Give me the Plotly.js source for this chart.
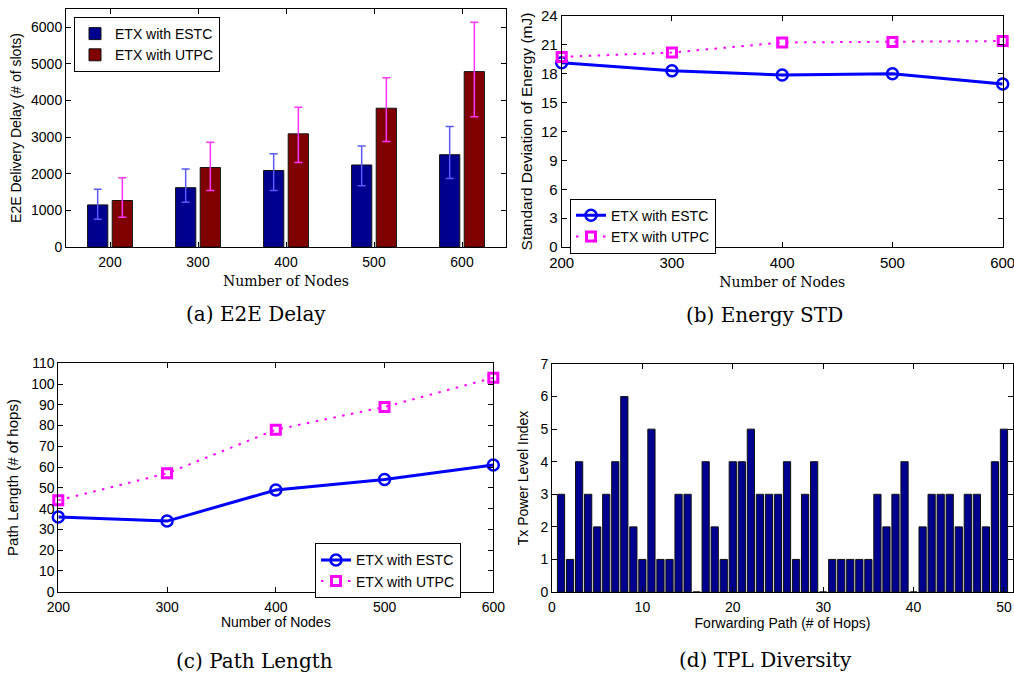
<!DOCTYPE html>
<html>
<head>
<meta charset="utf-8">
<script src="https://cdn.plot.ly/plotly-3.0.1.min.js"></script>
<style>html,body{margin:0;padding:0;background:#fff;}#chart{width:1014px;height:673px;}</style>
</head>
<body>
<div id="chart"></div>
<script>
// ---------- Data ----------
const nodes = [200, 300, 400, 500, 600];

// (a) E2E delay
const delayESTC = [1150, 1620, 2090, 2240, 2520];
const delayESTCErrPlus = [430, 510, 460, 520, 770];
const delayESTCErrMinus = [390, 400, 550, 570, 650];
const delayUTPC = [1270, 2170, 3090, 3790, 4790];
const delayUTPCErrPlus = [620, 690, 730, 830, 1350];
const delayUTPCErrMinus = [460, 630, 780, 910, 1230];

// (b) Energy STD
const energyESTC = [19.15, 18.3, 17.87, 18.0, 16.93];
const energyUTPC = [19.75, 20.2, 21.25, 21.3, 21.4];

// (c) Path length
const pathESTC = [36, 34, 49, 54, 61];
const pathUTPC = [44, 57, 78, 89, 103];

// (d) TPL diversity
const hops = [1,2,3,4,5,6,7,8,9,10,11,12,13,14,15,16,17,18,19,20,21,22,23,24,25,
              26,27,28,29,30,31,32,33,34,35,36,37,38,39,40,41,42,43,44,45,46,47,48,49,50];
const tplIndex = [3,1,4,3,2,3,4,6,2,1,5,1,1,3,3,0,4,2,1,4,4,5,3,3,3,
                  4,1,3,4,0,1,1,1,1,1,3,2,3,4,0,2,3,3,3,2,3,3,2,4,5];

const seriesNames = ['ETX with ESTC', 'ETX with UTPC'];
const captions = ['(a) E2E Delay', '(b) Energy STD', '(c) Path Length', '(d) TPL Diversity'];

// ---------- Styling ----------
const SANS = 'Liberation Sans, Arial, Helvetica, sans-serif';
const SERIF = 'DejaVu Serif, Liberation Serif, serif';
const W = 1014, H = 673;
const px = v => v / W;
const py = v => 1 - v / H;
const DOT = '2.5px,6.5px';

function axisBase(extra) {
  return Object.assign({
    showline: true, linecolor: '#000', linewidth: 1, mirror: 'ticks',
    ticks: 'inside', ticklen: 5, tickcolor: '#000', tickwidth: 1,
    showgrid: false, zeroline: false, ticklabeloverflow: 'allow',
    tickfont: {family: SANS, size: 14, color: '#000'}
  }, extra);
}

const traces = [
  // (a)
  {type: 'bar', x: nodes, y: delayESTC, name: seriesNames[0], xaxis: 'x', yaxis: 'y',
   width: 23, offset: -25.5, legend: 'legend',
   marker: {color: '#00008f', line: {color: '#111', width: 1}},
   error_y: {type: 'data', array: delayESTCErrPlus, arrayminus: delayESTCErrMinus, visible: true,
             color: '#5a5aff', thickness: 1.5, width: 4}},
  {type: 'bar', x: nodes, y: delayUTPC, name: seriesNames[1], xaxis: 'x', yaxis: 'y',
   width: 23, offset: 2.5, legend: 'legend',
   marker: {color: '#800000', line: {color: '#111', width: 1}},
   error_y: {type: 'data', array: delayUTPCErrPlus, arrayminus: delayUTPCErrMinus, visible: true,
             color: '#ff33ff', thickness: 1.5, width: 4}},
  // (b)
  {type: 'scatter', mode: 'lines+markers', x: nodes, y: energyESTC, name: seriesNames[0],
   xaxis: 'x2', yaxis: 'y2', legend: 'legend2', cliponaxis: false,
   line: {color: '#0000ff', width: 3},
   marker: {symbol: 'circle-open', size: 11, color: '#0000ff', line: {width: 2.5, color: '#0000ff'}}},
  {type: 'scatter', mode: 'lines+markers', x: nodes, y: energyUTPC, name: seriesNames[1],
   xaxis: 'x2', yaxis: 'y2', legend: 'legend2', cliponaxis: false,
   line: {color: '#ff00ff', width: 2, dash: DOT},
   marker: {symbol: 'square-open', size: 9, color: '#ff00ff', line: {width: 3, color: '#ff00ff'}}},
  // (c)
  {type: 'scatter', mode: 'lines+markers', x: nodes, y: pathESTC, name: seriesNames[0],
   xaxis: 'x3', yaxis: 'y3', legend: 'legend3', cliponaxis: false,
   line: {color: '#0000ff', width: 3},
   marker: {symbol: 'circle-open', size: 11, color: '#0000ff', line: {width: 2.5, color: '#0000ff'}}},
  {type: 'scatter', mode: 'lines+markers', x: nodes, y: pathUTPC, name: seriesNames[1],
   xaxis: 'x3', yaxis: 'y3', legend: 'legend3', cliponaxis: false,
   line: {color: '#ff00ff', width: 2, dash: DOT},
   marker: {symbol: 'square-open', size: 9, color: '#ff00ff', line: {width: 3, color: '#ff00ff'}}},
  // (d)
  {type: 'bar', x: hops, y: tplIndex, name: 'TPL', xaxis: 'x4', yaxis: 'y4', showlegend: false,
   width: 0.8, marker: {color: '#00008f', line: {color: '#111', width: 1}}}
];

const legendBase = {
  bgcolor: '#fff', bordercolor: '#000', borderwidth: 1,
  font: {family: SANS, size: 14, color: '#000'},
  xanchor: 'left', yanchor: 'top', tracegroupgap: 0, itemwidth: 30
};

const xTitleSerif = t => ({text: t, font: {family: SERIF, size: 14, color: '#000'}, standoff: 7});

const layout = {
  width: W, height: H, autosize: false,
  margin: {l: 0, r: 0, t: 0, b: 0},
  paper_bgcolor: '#fff', plot_bgcolor: '#fff',
  barmode: 'overlay',
  showlegend: true,
  // (a)
  xaxis: axisBase({domain: [px(66), px(506)], range: [150, 650], tickvals: nodes, anchor: 'y',
    ticklabelstandoff: 2, title: xTitleSerif('Number of Nodes')}),
  yaxis: axisBase({domain: [py(247), py(9)], range: [0, 6500], dtick: 1000, anchor: 'x',
    title: {text: 'E2E Delivery Delay (# of slots)', font: {family: SANS, size: 14, color: '#000'}, standoff: 6}}),
  // (b)
  xaxis2: axisBase({domain: [px(561.7), px(1002.7)], range: [200, 600], tickvals: nodes, anchor: 'y2',
    ticklabelstandoff: 2, tickfont: {family: SANS, size: 15, color: '#000'},
    title: xTitleSerif('Number of Nodes')}),
  yaxis2: axisBase({domain: [py(247), py(16)], range: [0, 24], dtick: 3, anchor: 'x2',
    tickfont: {family: SANS, size: 15, color: '#000'},
    title: {text: 'Standard Deviation of Energy (mJ)', font: {family: SANS, size: 15.5, color: '#000'}, standoff: 4}}),
  // (c)
  xaxis3: axisBase({domain: [px(58.3), px(493.3)], range: [200, 600], tickvals: nodes, anchor: 'y3',
    ticklabelstandoff: 2,
    title: {text: 'Number of Nodes', font: {family: SANS, size: 14, color: '#000'}, standoff: 3}}),
  yaxis3: axisBase({domain: [py(591.7), py(363.3)], range: [0, 110], dtick: 10, anchor: 'x3',
    title: {text: 'Path Length (# of hops)', font: {family: SANS, size: 15, color: '#000'}, standoff: 8}}),
  // (d)
  xaxis4: axisBase({domain: [px(552), px(1013)], range: [0, 51], tickvals: [0, 10, 20, 30, 40, 50], anchor: 'y4',
    ticklabelstandoff: 2,
    title: {text: 'Forwarding Path (# of Hops)', font: {family: SANS, size: 14, color: '#000'}, standoff: 3}}),
  yaxis4: axisBase({domain: [py(592), py(364)], range: [0, 7], dtick: 1, anchor: 'x4',
    title: {text: 'Tx Power Level Index', font: {family: SANS, size: 14, color: '#000'}, standoff: 8}}),
  legend: Object.assign({}, legendBase, {x: px(74), y: py(17)}),
  legend2: Object.assign({}, legendBase, {x: px(570), y: py(198.7)}),
  legend3: Object.assign({}, legendBase, {x: px(315), y: py(543.3)}),
  annotations: [
    {text: captions[0], x: px(255.5), y: py(314), xref: 'paper', yref: 'paper', showarrow: false,
     xanchor: 'center', yanchor: 'middle', font: {family: SERIF, size: 20, color: '#000'}},
    {text: captions[1], x: px(764.5), y: py(315), xref: 'paper', yref: 'paper', showarrow: false,
     xanchor: 'center', yanchor: 'middle', font: {family: SERIF, size: 20, color: '#000'}},
    {text: captions[2], x: px(254), y: py(661), xref: 'paper', yref: 'paper', showarrow: false,
     xanchor: 'center', yanchor: 'middle', font: {family: SERIF, size: 20, color: '#000'}},
    {text: captions[3], x: px(765), y: py(660), xref: 'paper', yref: 'paper', showarrow: false,
     xanchor: 'center', yanchor: 'middle', font: {family: SERIF, size: 20, color: '#000'}}
  ]
};

Plotly.newPlot('chart', traces, layout, {staticPlot: true, displayModeBar: false});
</script>
</body>
</html>
